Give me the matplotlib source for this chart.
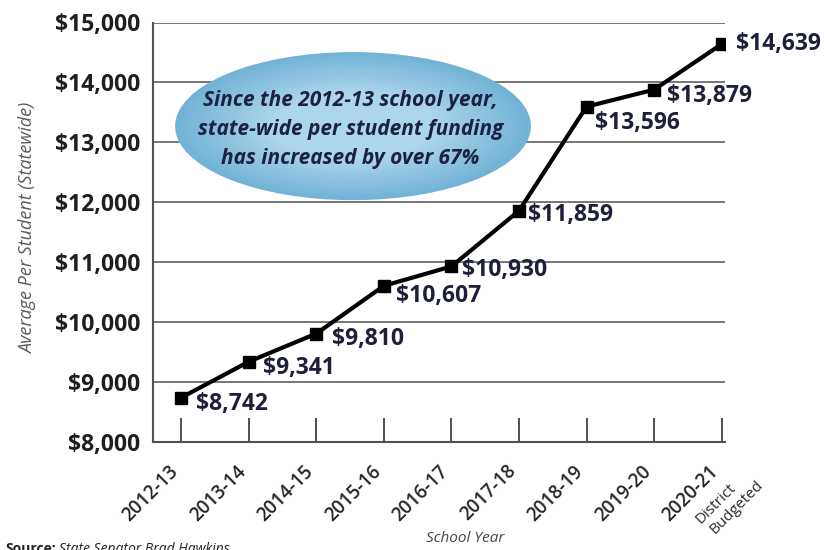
import numpy as np
import matplotlib
matplotlib.use("Agg")
import matplotlib.pyplot as plt
from matplotlib.patches import Ellipse
from matplotlib.transforms import ScaledTranslation
from matplotlib.colors import to_rgb

# data
years = ["2012-13", "2013-14", "2014-15", "2015-16", "2016-17",
         "2017-18", "2018-19", "2019-20", "2020-21"]
funding = [8742, 9341, 9810, 10607, 10930, 11859, 13596, 13879, 14639]
y_ticks = [8000, 9000, 10000, 11000, 12000, 13000, 14000, 15000]
note = ("Since the 2012-13 school year,\n"
        "state-wide per student funding\n"
        "has increased by over 67%")

# label offsets from each marker, in pixels (layout only)
label_offsets = [(15, -6), (14, -6), (16, -5), (12, -10), (11, -4),
                 (9, -4), (8, -16), (13, -6), (14, 0)]

plt.rcParams['font.family'] = ['Open Sans', 'DejaVu Sans']

fig = plt.figure(figsize=(8.24, 5.5), dpi=100)
ax = fig.add_axes([153 / 824, 108 / 550, 572 / 824, 419.5 / 550])

x = np.arange(len(years))
ax.set_xlim(-0.42, 8.05)
ax.set_ylim(8000, 15000)

# grid lines
for v in y_ticks[1:]:
    ax.axhline(v, color='#6b6b6b', lw=1.3, zorder=1)

# blue ellipse with a fake radial gradient
edge_c = np.array(to_rgb('#72b2d6'))
mid_c = np.array(to_rgb('#acd6ec'))
n = 40
for i in range(n):
    t = i / (n - 1)
    s = 1.0 - 0.55 * t
    col = edge_c * (1 - t) + mid_c * t
    ax.add_patch(Ellipse((0.3497, 0.753), 0.622 * s, 0.353 * s,
                         transform=ax.transAxes, facecolor=col,
                         edgecolor='none', zorder=2))
ax.text(0.345, 0.745, note, transform=ax.transAxes, ha='center', va='center',
        fontsize=15, fontweight='bold', style='italic', color='#1b2142',
        linespacing=1.5, zorder=3)

# the line
ax.plot(x, funding, color='black', lw=3, marker='s', ms=8.5, zorder=4)

for xi, v, (dx, dy) in zip(x, funding, label_offsets):
    ax.annotate(f"${v:,}", (xi, v), xytext=(dx, dy), textcoords='offset pixels',
                ha='left', va='center', fontsize=16.5, fontweight='bold',
                color='#1d1f3b', zorder=5)

# spines
for s in ['top', 'right']:
    ax.spines[s].set_visible(False)
ax.spines['left'].set_color('#505050')
ax.spines['bottom'].set_color('#505050')
ax.spines['left'].set_linewidth(1.5)
ax.spines['bottom'].set_linewidth(1.5)

ax.set_yticks(y_ticks)
ax.set_yticklabels([f"${v:,}" for v in y_ticks])
ax.tick_params(axis='y', length=0, pad=9, labelsize=16.5, labelcolor='#1e1e1e')
for lab in ax.get_yticklabels():
    lab.set_fontweight('bold')

ax.set_xticks(x)
ax.set_xticklabels(years)
ax.tick_params(axis='x', direction='in', length=17, width=1.4, color='#505050',
               pad=19, labelsize=13.5, labelcolor='#262626')
shift = ScaledTranslation(-6 / 100, 0, fig.dpi_scale_trans)
for lab in ax.get_xticklabels():
    lab.set_rotation(45)
    lab.set_ha('right')
    lab.set_va('center')
    lab.set_rotation_mode('anchor')
    lab.set_fontweight('semibold')
    lab.set_transform(lab.get_transform() + shift)

# extra lines under the last year
ax.annotate("District", (8, 0), xycoords=('data', 'axes fraction'),
            xytext=(-6, -62), textcoords='offset pixels', rotation=45,
            ha='center', va='center', rotation_mode='anchor',
            fontsize=11, color='#2a2a2a', annotation_clip=False)
ax.annotate("Budgeted", (8, 0), xycoords=('data', 'axes fraction'),
            xytext=(15, -65), textcoords='offset pixels', rotation=45,
            ha='center', va='center', rotation_mode='anchor',
            fontsize=11, color='#2a2a2a', annotation_clip=False)

fig.text(28 / 824, 322 / 550, "Average Per Student (Statewide)", rotation=90,
         ha='center', va='center', fontsize=13, style='italic', color='#5a5a5a')
fig.text(465 / 824, 11 / 550, "School Year", ha='center', va='center',
         fontsize=11, style='italic', color='#444444')
fig.text(5 / 824, 8 / 550, "Source:", ha='left', va='top', fontsize=10,
         fontweight='bold', color='#222222')
fig.text(59 / 824, 8 / 550, "State Senator Brad Hawkins", ha='left', va='top',
         fontsize=10, style='italic', color='#222222')

fig.savefig("out.png", dpi=100)
